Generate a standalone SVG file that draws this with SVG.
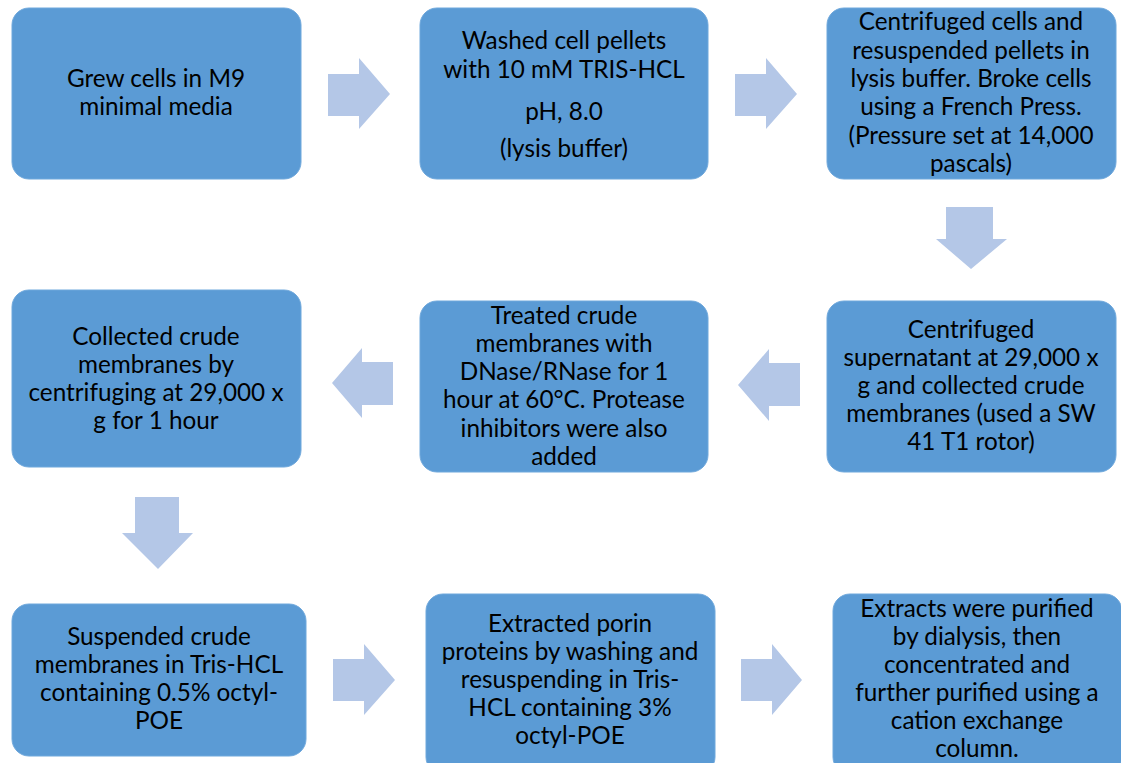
<svg xmlns="http://www.w3.org/2000/svg" width="1121" height="763" viewBox="0 0 1121 763">
<style>
.box{fill:#5B9BD5;stroke:#6FA8DC;stroke-width:1}
.arr{fill:#B4C7E7}
text{font-family:"Lato","Open Sans","Liberation Sans",sans-serif;font-size:24.3px;fill:#000;text-anchor:middle}
</style>
<rect width="1121" height="763" fill="#fff"/>
<g id="connectors">
<polygon class="arr" points="328,74 359,74 359,58 390,94 359,129 359,116 328,116"/>
<polygon class="arr" points="735,74 766,74 766,58 797,94 766,129 766,116 735,116"/>
<polygon class="arr" points="946,207 993,207 993,239 1007,239 971,269 936,239 946,239"/>
<polygon class="arr" points="800,363 769,363 769,349 738,385 769,421 769,406 800,406"/>
<polygon class="arr" points="393,362 362,362 362,348 332,383 362,418 362,405 393,405"/>
<polygon class="arr" points="135,497 179,497 179,533 193,533 158,569 122,533 135,533"/>
<polygon class="arr" points="333,659 364,659 364,644 395,680 364,715 364,701 333,701"/>
<polygon class="arr" points="741,659 772,659 772,644 802,680 772,715 772,701 741,701"/>
</g>
<g id="n1"><rect class="box" x="12" y="8" width="289" height="171" rx="17"/>
<text x="156" y="87">Grew cells in M9</text><text x="156" y="115">minimal media</text></g>
<g id="n2"><rect class="box" x="420" y="8" width="288" height="171" rx="17"/>
<text x="564" y="49">Washed cell pellets</text><text x="564" y="78">with 10 mM TRIS-HCL</text><text x="564" y="120">pH, 8.0</text><text x="564" y="157">(lysis buffer)</text></g>
<g id="n3"><rect class="box" x="827" y="8" width="289" height="171" rx="17"/>
<text x="971" y="30">Centrifuged cells and</text><text x="971" y="59">resuspended pellets in</text><text x="971" y="87">lysis buffer. Broke cells</text><text x="971" y="115">using a French Press.</text><text x="971" y="144">(Pressure set at 14,000</text><text x="971" y="172">pascals)</text></g>
<g id="n4"><rect class="box" x="12" y="290" width="289" height="177" rx="17"/>
<text x="156" y="345">Collected crude</text><text x="156" y="373">membranes by</text><text x="156" y="401">centrifuging at 29,000 x</text><text x="156" y="429">g  for 1 hour</text></g>
<g id="n5"><rect class="box" x="420" y="301" width="288" height="171" rx="17"/>
<text x="564" y="324">Treated crude</text><text x="564" y="352">membranes with</text><text x="564" y="380">DNase/RNase for 1</text><text x="564" y="408">hour at 60°C. Protease</text><text x="564" y="437">inhibitors were also</text><text x="564" y="465">added</text></g>
<g id="n6"><rect class="box" x="827" y="301" width="289" height="171" rx="17"/>
<text x="971" y="338">Centrifuged</text><text x="971" y="366">supernatant at 29,000 x</text><text x="971" y="394">g and collected crude</text><text x="971" y="422">membranes (used a SW</text><text x="971" y="450">41 T1 rotor)</text></g>
<g id="n7"><rect class="box" x="12" y="604" width="294" height="152" rx="17"/>
<text x="159" y="645">Suspended crude</text><text x="159" y="673">membranes in Tris-HCL</text><text x="159" y="701">containing 0.5% octyl-</text><text x="159" y="729">POE</text></g>
<g id="n8"><rect class="box" x="426" y="594" width="289" height="180" rx="17"/>
<text x="570" y="632">Extracted porin</text><text x="570" y="660">proteins by washing and</text><text x="570" y="688">resuspending in Tris-</text><text x="570" y="716">HCL containing 3%</text><text x="570" y="744">octyl-POE</text></g>
<g id="n9"><rect class="box" x="833" y="594" width="289" height="180" rx="17"/>
<text x="977" y="617">Extracts were purified</text><text x="977" y="645">by dialysis, then</text><text x="977" y="673">concentrated and</text><text x="977" y="701">further purified using a</text><text x="977" y="729">cation exchange</text><text x="977" y="757">column.</text></g>
</svg>
